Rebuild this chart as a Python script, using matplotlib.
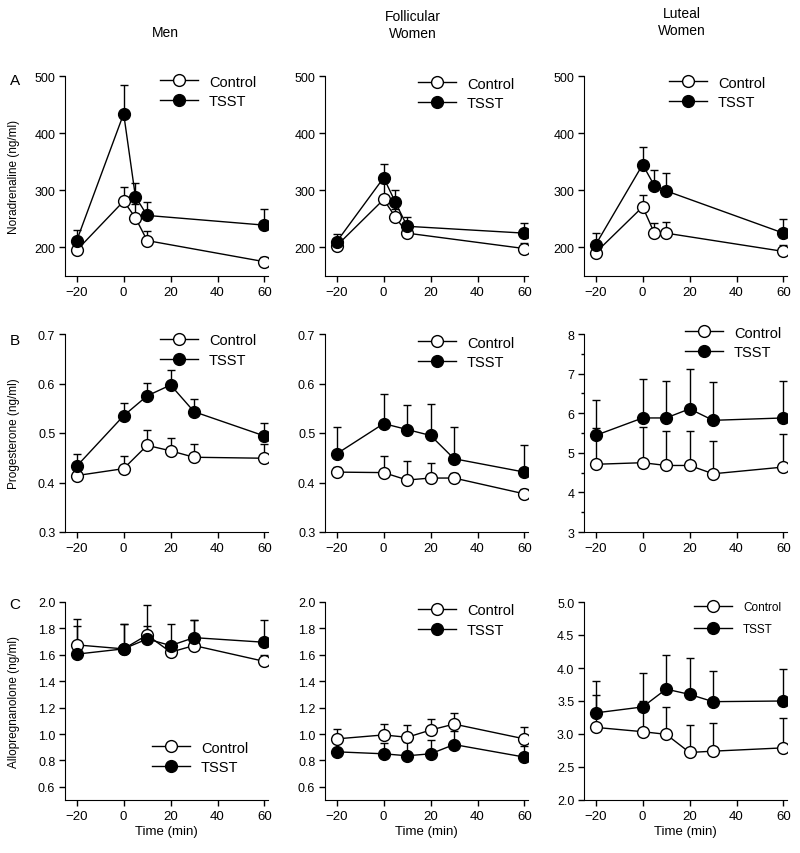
import numpy as np
import matplotlib
matplotlib.use('Agg')
import matplotlib.pyplot as plt
from matplotlib.ticker import MultipleLocator, FormatStrFormatter

plt.rcParams['font.family'] = ['Liberation Sans', 'DejaVu Sans']

# %% data
t_na = [-20, 0, 5, 10, 60]
t_st = [-20, 0, 10, 20, 30, 60]

# Noradrenaline (ng/ml)
men_na_ctrl = [195, 281, 252, 212, 175]
men_na_ctrl_err = [8, 25, 24, 17, 8]
men_na_tsst = [212, 434, 289, 256, 239]
men_na_tsst_err = [19, 51, 23, 23, 29]
fol_na_ctrl = [203, 284, 253, 225, 198]
fol_na_ctrl_err = [8, 28, 15, 14, 10]
fol_na_tsst = [210, 322, 279, 237, 225]
fol_na_tsst_err = [13, 24, 21, 17, 18]
lut_na_ctrl = [191, 271, 225, 225, 193]
lut_na_ctrl_err = [8, 20, 17, 19, 12]
lut_na_tsst = [205, 345, 308, 299, 225]
lut_na_tsst_err = [21, 30, 28, 32, 24]

# Progesterone (ng/ml)
men_p_ctrl = [0.414, 0.428, 0.475, 0.464, 0.451, 0.449]
men_p_ctrl_err = [0.01, 0.026, 0.031, 0.026, 0.026, 0.028]
men_p_tsst = [0.433, 0.535, 0.575, 0.597, 0.543, 0.494]
men_p_tsst_err = [0.024, 0.025, 0.026, 0.031, 0.026, 0.026]
fol_p_ctrl = [0.421, 0.420, 0.405, 0.409, 0.409, 0.377]
fol_p_ctrl_err = [0.01, 0.033, 0.039, 0.031, 0.01, 0.01]
fol_p_tsst = [0.458, 0.519, 0.507, 0.495, 0.448, 0.421]
fol_p_tsst_err = [0.054, 0.06, 0.05, 0.064, 0.064, 0.054]
lut_p_ctrl = [4.71, 4.75, 4.68, 4.68, 4.47, 4.64]
lut_p_ctrl_err = [0.91, 0.91, 0.87, 0.87, 0.84, 0.84]
lut_p_tsst = [5.44, 5.88, 5.88, 6.11, 5.82, 5.88]
lut_p_tsst_err = [0.90, 0.98, 0.93, 1.0, 0.97, 0.94]

# Allopregnanolone (ng/ml)
men_a_ctrl = [1.675, 1.645, 1.75, 1.62, 1.67, 1.55]
men_a_ctrl_err = [0.20, 0.19, 0.23, 0.05, 0.19, 0.05]
men_a_tsst = [1.605, 1.645, 1.72, 1.67, 1.73, 1.695]
men_a_tsst_err = [0.21, 0.19, 0.10, 0.16, 0.13, 0.17]
fol_a_ctrl = [0.963, 0.993, 0.975, 1.03, 1.075, 0.963]
fol_a_ctrl_err = [0.077, 0.08, 0.095, 0.08, 0.085, 0.092]
fol_a_tsst = [0.865, 0.85, 0.835, 0.85, 0.92, 0.825]
fol_a_tsst_err = [0.075, 0.08, 0.105, 0.105, 0.10, 0.085]
lut_a_ctrl = [3.10, 3.035, 2.995, 2.72, 2.74, 2.79]
lut_a_ctrl_err = [0.49, 0.47, 0.415, 0.42, 0.42, 0.46]
lut_a_tsst = [3.32, 3.41, 3.68, 3.60, 3.49, 3.50]
lut_a_tsst_err = [0.48, 0.51, 0.52, 0.55, 0.47, 0.48]

col_titles = ['Men', 'Follicular\nWomen', 'Luteal\nWomen']
row_letters = ['A', 'B', 'C']
row_ylabels = ['Noradrenaline (ng/ml)', 'Progesterone (ng/ml)', 'Allopregnanolone (ng/ml)']
x_ticks = [-20, 0, 20, 40, 60]

# %% layout (pixel positions of the original 800x854 figure)
W, H = 800, 854
col_left = [65, 325, 584]
ax_w = 203
row_top = [77, 335, 603]
row_h = [200, 198, 198]

fig = plt.figure(figsize=(W / 100, H / 100), dpi=100)


def make_ax(r, c):
    ax = fig.add_axes([col_left[c] / W, 1 - (row_top[r] + row_h[r]) / H, ax_w / W, row_h[r] / H])
    ax.spines['top'].set_visible(False)
    ax.spines['right'].set_visible(False)
    ax.tick_params(direction='out', length=4, width=1, pad=3)
    ax.tick_params(axis='x', labelsize=9.5)
    ax.tick_params(axis='y', labelsize=9)
    ax.set_xlim(-25, 61.5)
    ax.set_xticks(x_ticks)
    ax.set_xticklabels(['\u221220', '0', '20', '40', '60'])
    return ax


def draw(ax, t, ctrl, ctrl_err, tsst, tsst_err):
    # one-sided (upward) error bars behind the markers
    for y, e in [(ctrl, ctrl_err), (tsst, tsst_err)]:
        ax.errorbar(t, y, yerr=[np.zeros(len(e)), e], fmt='none', ecolor='black',
                    elinewidth=1, capsize=3, capthick=1, zorder=1)
    l1, = ax.plot(t, ctrl, '-o', color='black', lw=1, ms=8.5, mfc='white', mec='black', mew=1,
                  zorder=2, label='Control')
    l2, = ax.plot(t, tsst, '-o', color='black', lw=1, ms=8.5, mfc='black', mec='black', mew=1,
                  zorder=3, label='TSST')
    return [l1, l2]


def add_legend(ax, handles, hx, y1, y2, fs=10.5, spacing=0.4, hlen=2.6, tpad=0.75):
    ax.legend(handles=handles, loc='center left', frameon=False, fontsize=fs,
              bbox_to_anchor=(hx / W, 1 - (y1 + y2) / 2 / H), bbox_transform=fig.transFigure,
              borderpad=0, borderaxespad=0, labelspacing=spacing, handlelength=hlen,
              handletextpad=tpad, numpoints=1)


panels = [
    [(t_na, men_na_ctrl, men_na_ctrl_err, men_na_tsst, men_na_tsst_err),
     (t_na, fol_na_ctrl, fol_na_ctrl_err, fol_na_tsst, fol_na_tsst_err),
     (t_na, lut_na_ctrl, lut_na_ctrl_err, lut_na_tsst, lut_na_tsst_err)],
    [(t_st, men_p_ctrl, men_p_ctrl_err, men_p_tsst, men_p_tsst_err),
     (t_st, fol_p_ctrl, fol_p_ctrl_err, fol_p_tsst, fol_p_tsst_err),
     (t_st, lut_p_ctrl, lut_p_ctrl_err, lut_p_tsst, lut_p_tsst_err)],
    [(t_st, men_a_ctrl, men_a_ctrl_err, men_a_tsst, men_a_tsst_err),
     (t_st, fol_a_ctrl, fol_a_ctrl_err, fol_a_tsst, fol_a_tsst_err),
     (t_st, lut_a_ctrl, lut_a_ctrl_err, lut_a_tsst, lut_a_tsst_err)],
]

ylims = [[(150, 500)] * 3,
         [(0.3, 0.7), (0.3, 0.7), (3, 8)],
         [(0.5, 2.0), (0.5, 2.0), (2, 5)]]
yticks = [[[200, 300, 400, 500]] * 3,
          [np.arange(0.3, 0.71, 0.1), np.arange(0.3, 0.71, 0.1), np.arange(3, 8.1, 1)],
          [np.arange(0.6, 2.01, 0.2), np.arange(0.6, 2.01, 0.2), np.arange(2, 5.01, 0.5)]]
yfmt = [['%d'] * 3, ['%.1f', '%.1f', '%d'], ['%.1f', '%.1f', '%.1f']]

# legend position: handle left x, row 1 y, row 2 y (pixels)
leg_pos = [[(160, 82, 103), (418, 84, 105), (669, 83, 104)],
           [(160, 341, 361), (418, 343, 364), (685, 333, 354)],
           [(152, 748, 769), (418, 610, 632), (694, 608, 630)]]

for r in range(3):
    for c in range(3):
        ax = make_ax(r, c)
        handles = draw(ax, *panels[r][c])
        ax.set_ylim(*ylims[r][c])
        ax.set_yticks(yticks[r][c])
        ax.yaxis.set_major_formatter(FormatStrFormatter(yfmt[r][c]))
        if r == 1 and c == 2:
            ax.yaxis.set_minor_locator(MultipleLocator(0.5))
            ax.tick_params(axis='y', which='minor', direction='out', length=2, width=1)
        hx, y1, y2 = leg_pos[r][c]
        if r == 2 and c == 2:
            add_legend(ax, handles, hx, y1, y2, fs=8.5, spacing=0.9, hlen=3.2, tpad=0.95)
        else:
            add_legend(ax, handles, hx, y1, y2)
        if c == 0:
            ax.set_ylabel(row_ylabels[r], fontsize=8.5)
            ax.yaxis.set_label_coords(-0.222, 0.5)
        if r == 2:
            ax.set_xlabel('Time (min)', fontsize=9.5)
            ax.xaxis.set_label_coords(0.5, -31 / row_h[r])
            ax.xaxis.label.set_va('center')

# panel letters and column titles
for r in range(3):
    fig.text(15 / W, 1 - [81, 341, 605][r] / H, row_letters[r], fontsize=11, ha='center', va='center')
title_xy = [(165, 33), (413, 25.5), (682, 22.5)]
for (tx, ty), title in zip(title_xy, col_titles):
    fig.text(tx / W, 1 - ty / H, title, fontsize=10, ha='center', va='center', linespacing=1.25)

plt.savefig('out.png', dpi=100)
